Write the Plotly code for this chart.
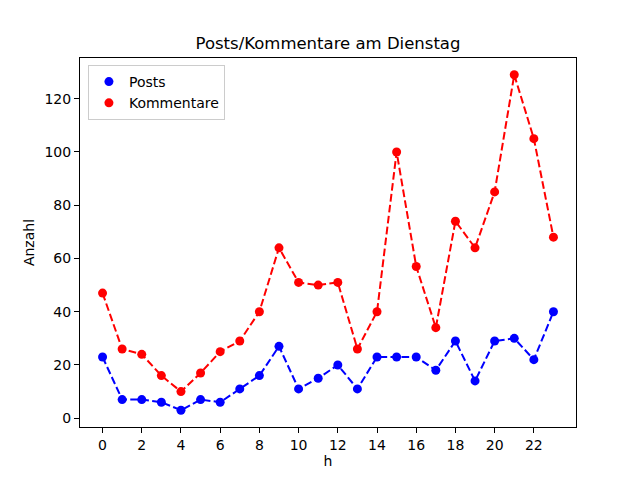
import plotly.graph_objects as go

hours = list(range(24))
posts = [23, 7, 7, 6, 3, 7, 6, 11, 16, 27, 11, 15, 20, 11, 23, 23, 23, 18, 29, 14, 29, 30, 22, 40]
kommentare = [47, 26, 24, 16, 10, 17, 25, 29, 40, 64, 51, 50, 51, 26, 40, 100, 57, 34, 74, 64, 85, 129, 105, 68]
x_ticks = list(range(0, 24, 2))
y_ticks = [0, 20, 40, 60, 80, 100, 120]

FONT = "DejaVu Sans"
DASH = "7.7px,3.3px"

fig = go.Figure()
for name, vals, col in [("Posts", posts, "blue"), ("Kommentare", kommentare, "red")]:
    # gestrichelte Linie ohne Legende, Punkte mit Legende
    fig.add_trace(go.Scatter(x=hours, y=vals, mode="lines", showlegend=False,
                             line=dict(color=col, width=2, dash=DASH)))
    fig.add_trace(go.Scatter(x=hours, y=vals, mode="markers", name=name,
                             marker=dict(color=col, size=9)))

axis_common = dict(showgrid=False, zeroline=False, showline=True, linecolor="black",
                   linewidth=1, mirror=True, ticks="outside", ticklen=5, tickcolor="black",
                   tickfont=dict(size=14, color="black"))

fig.update_layout(
    width=640, height=480,
    paper_bgcolor="white", plot_bgcolor="white",
    font=dict(family=FONT, size=14, color="black"),
    margin=dict(l=72, r=72, t=50, b=61),
    title=dict(text="Posts/Kommentare am Dienstag", x=0.5, xanchor="center",
               y=1 - 35 / 480, yanchor="middle", font=dict(size=16.5)),
    legend=dict(x=0.016, y=0.981, xanchor="left", yanchor="top",
                bordercolor="#cccccc", borderwidth=1, bgcolor="white",
                font=dict(size=14), itemwidth=30, tracegroupgap=0),
    showlegend=True,
)
fig.update_xaxes(range=[-1.15, 24.15], tickvals=x_ticks,
                 title=dict(text="h", standoff=4, font=dict(size=14)), **axis_common)
fig.update_yaxes(range=[-3.3, 135.3], tickvals=y_ticks,
                 title=dict(text="Anzahl", standoff=6, font=dict(size=14)), **axis_common)

fig.write_html("out.html")
